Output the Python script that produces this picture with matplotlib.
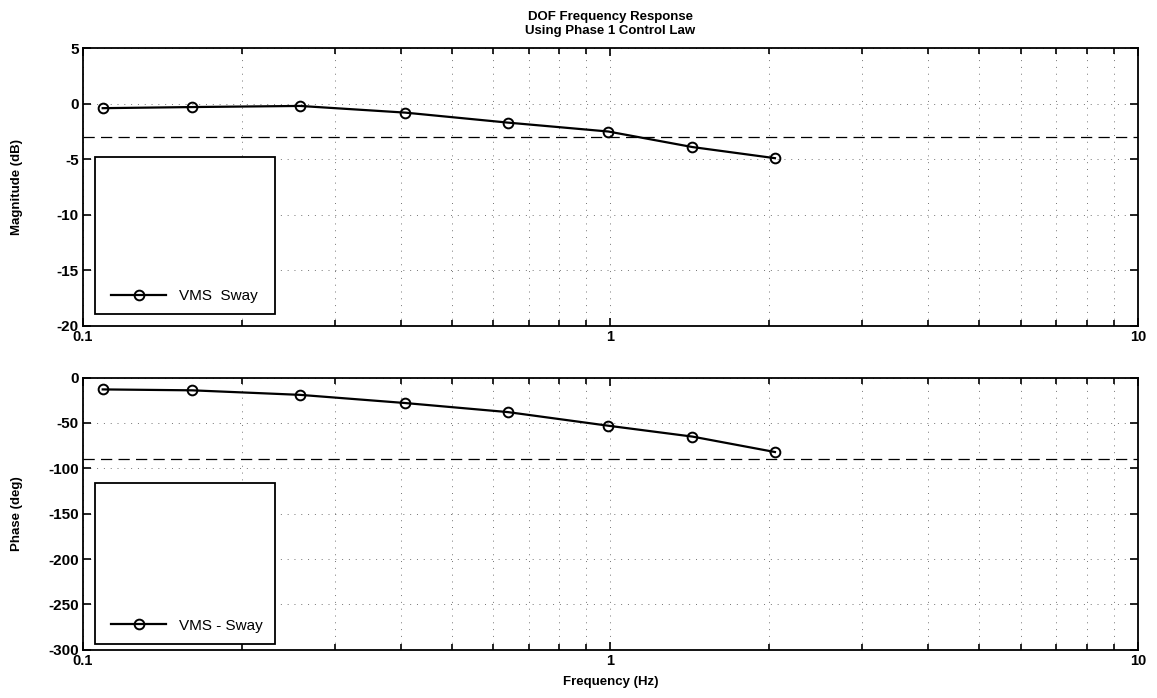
"""Bode plot of the VMS sway DOF using the Phase 1 control law."""

import matplotlib
matplotlib.use("Agg")
import matplotlib.pyplot as plt
from matplotlib.patches import Rectangle
from matplotlib.ticker import LogLocator, NullFormatter

# ---------------------------------------------------------------------------
# Data
# ---------------------------------------------------------------------------
freq_hz = [0.109, 0.161, 0.258, 0.408, 0.639, 0.99, 1.43, 2.05]
mag_db = [-0.4, -0.3, -0.2, -0.8, -1.7, -2.5, -3.9, -4.9]
phase_deg = [-13, -14, -19, -28, -38, -53, -65, -82]

mag_ticks = [5, 0, -5, -10, -15, -20]
phase_ticks = [0, -50, -100, -150, -200, -250, -300]
freq_ticks = [0.1, 1, 10]
freq_labels = ["0.1", "1", "10"]

plt.rcParams["font.family"] = ["Liberation Sans", "DejaVu Sans"]
plt.rcParams["axes.unicode_minus"] = False

fig = plt.figure(figsize=(11.57, 6.98), dpi=100)
ax_mag = fig.add_axes([0.0717, 0.533, 0.9119, 0.398])
ax_ph = fig.add_axes([0.0717, 0.069, 0.9119, 0.390])


def style(ax, yticks, ylim, ylabel):
    ax.set_xscale("log")
    ax.set_xlim(0.1, 10)
    ax.set_ylim(*ylim)
    ax.set_yticks(yticks)
    ax.set_yticklabels([str(t) for t in yticks], fontsize=11, fontweight="bold")
    ax.set_xticks(freq_ticks)
    ax.set_xticklabels(freq_labels, fontsize=10.5, fontweight="bold")
    ax.xaxis.set_minor_locator(LogLocator(base=10, subs=range(2, 10)))
    ax.xaxis.set_minor_formatter(NullFormatter())
    ax.tick_params(which="both", direction="in", top=True, right=True,
                   width=1.2, color="black")
    ax.tick_params(which="major", length=6, pad=3)
    ax.tick_params(which="minor", length=4)
    ax.grid(True, which="both", color="black", lw=0.7, alpha=0.55,
            linestyle=(0, (1, 6)))
    for sp in ax.spines.values():
        sp.set_linewidth(1.3)
    ax.set_ylabel(ylabel, fontsize=9.5, fontweight="bold")
    ax.yaxis.set_label_coords(-0.057, 0.5)


def legend_box(ax, label, y0, y1):
    box = Rectangle((0.0114, y0), 0.171, y1 - y0, transform=ax.transAxes,
                    facecolor="white", edgecolor="black", lw=1.3, zorder=5)
    ax.add_patch(box)
    leg = ax.legend([ax.lines[0]], [label], loc="lower left",
                    bbox_to_anchor=(0.014, y0 - 0.01), frameon=False,
                    handlelength=3.6, fontsize=11)
    leg.set_zorder(6)


# Magnitude
style(ax_mag, mag_ticks, (-20, 5), "Magnitude (dB)")
ax_mag.plot(freq_hz, mag_db, color="black", lw=1.6, marker="o", ms=7,
            mfc="none", mec="black", mew=1.4, zorder=3)
ax_mag.axhline(-3, color="black", lw=0.9, linestyle=(0, (9, 5)), zorder=2)
legend_box(ax_mag, "VMS  Sway", 0.043, 0.608)
ax_mag.set_title("DOF Frequency Response\nUsing Phase 1 Control Law",
                 fontsize=9.5, fontweight="bold", pad=10, linespacing=1.25)

# Phase
style(ax_ph, phase_ticks, (-300, 0), "Phase (deg)")
ax_ph.plot(freq_hz, phase_deg, color="black", lw=1.6, marker="o", ms=7,
           mfc="none", mec="black", mew=1.4, zorder=3)
ax_ph.axhline(-90, color="black", lw=0.9, linestyle=(0, (9, 5)), zorder=2)
legend_box(ax_ph, "VMS - Sway", 0.022, 0.614)
ax_ph.set_xlabel("Frequency (Hz)", fontsize=9.5, fontweight="bold", labelpad=6)

fig.savefig("out.png", dpi=100)
plt.close(fig)
